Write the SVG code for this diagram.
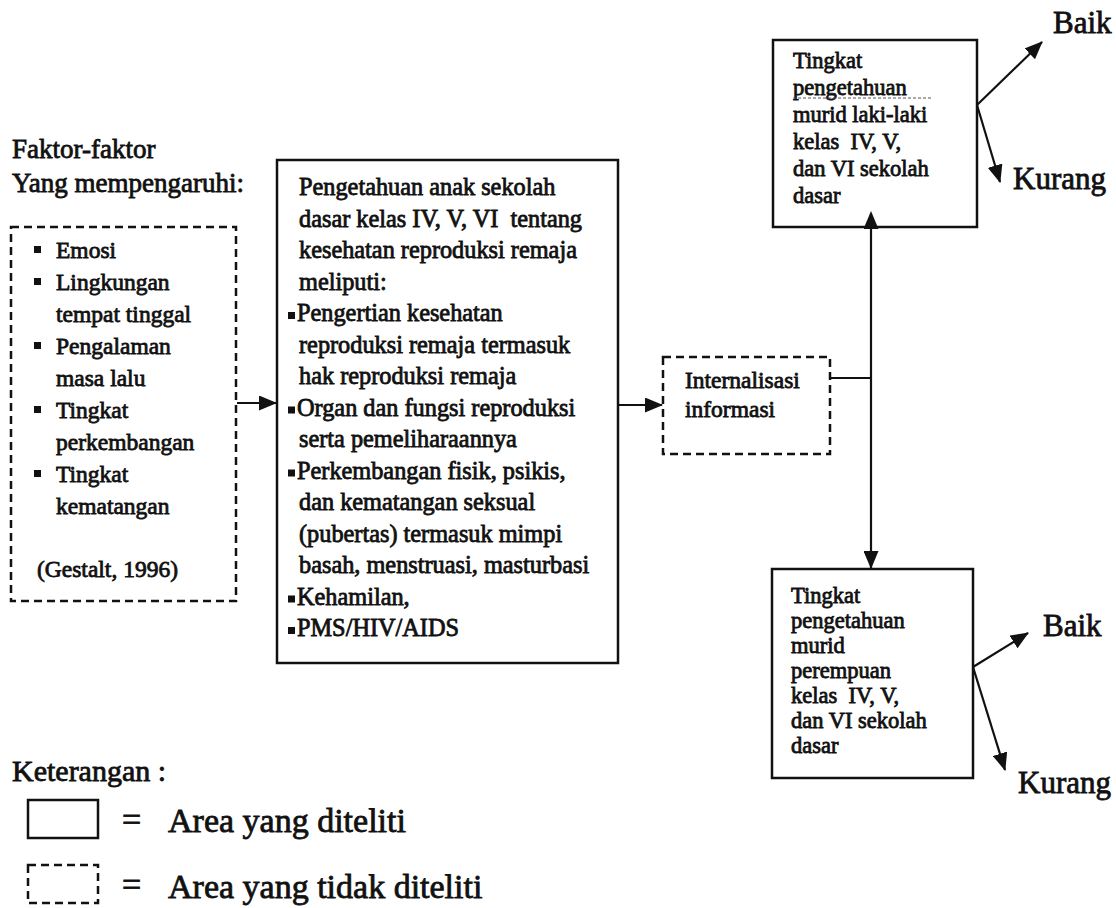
<svg xmlns="http://www.w3.org/2000/svg" width="1116" height="908" viewBox="0 0 1116 908">
<style>
text{font-family:"Liberation Serif","Times New Roman",serif;fill:#111;stroke:#111;stroke-width:0.8}
.h{font-size:27px}
.k{font-size:30px}
.o{font-size:31px}
.b{font-size:23.5px}
.m{font-size:24.3px}
.r{font-size:22.5px}
.lg{font-size:34px}
.solid{fill:#fff;stroke:#111;stroke-width:2.5}
.dash{fill:#fff;stroke:#111;stroke-width:2.5;stroke-dasharray:8 5}
.ln{fill:none;stroke:#111;stroke-width:2.2}
.bul{fill:#111}
</style>
<defs>
<marker id="ah" viewBox="0 0 18 15" refX="17" refY="7.5" markerWidth="18" markerHeight="15" markerUnits="userSpaceOnUse" orient="auto">
<path d="M0,0 L18,7.5 L0,15 Z" fill="#111"/>
</marker>
<marker id="ahs" viewBox="0 0 18 15" refX="1" refY="7.5" markerWidth="18" markerHeight="15" markerUnits="userSpaceOnUse" orient="auto-start-reverse">
<path d="M0,0 L18,7.5 L0,15 Z" fill="#111"/>
</marker>
</defs>
<rect width="1116" height="908" fill="#fff"/>

<g id="heading">
<text class="h" x="12" y="158">Faktor-faktor</text>
<text class="h" x="12" y="192">Yang mempengaruhi:</text>
</g>

<g id="faktor">
<rect class="dash" x="11" y="227" width="225" height="374"/>
<rect class="bul" x="34" y="246" width="7" height="7"/>
<text class="b" x="56" y="258">Emosi</text>
<rect class="bul" x="34" y="278" width="7" height="7"/>
<text class="b" x="56" y="290">Lingkungan</text>
<text class="b" x="56" y="322">tempat tinggal</text>
<rect class="bul" x="34" y="342" width="7" height="7"/>
<text class="b" x="56" y="354">Pengalaman</text>
<text class="b" x="56" y="386">masa lalu</text>
<rect class="bul" x="34" y="406" width="7" height="7"/>
<text class="b" x="56" y="418">Tingkat</text>
<text class="b" x="56" y="450">perkembangan</text>
<rect class="bul" x="34" y="470" width="7" height="7"/>
<text class="b" x="56" y="482">Tingkat</text>
<text class="b" x="56" y="514">kematangan</text>
<text class="b" x="37" y="577">(Gestalt, 1996)</text>
</g>

<g id="pengetahuan">
<rect class="solid" x="277" y="160" width="341" height="503"/>
<text class="m" x="299" y="195">Pengetahuan anak sekolah</text>
<text class="m" x="299" y="226.5" xml:space="preserve">dasar kelas IV, V, VI  tentang</text>
<text class="m" x="299" y="258">kesehatan reproduksi remaja</text>
<text class="m" x="299" y="289.5">meliputi:</text>
<rect class="bul" x="288" y="312" width="7" height="7"/>
<text class="m" x="297" y="321">Pengertian kesehatan</text>
<text class="m" x="299" y="352.5">reproduksi remaja termasuk</text>
<text class="m" x="299" y="384">hak reproduksi remaja</text>
<rect class="bul" x="288" y="406.5" width="7" height="7"/>
<text class="m" x="297" y="415.5">Organ dan fungsi reproduksi</text>
<text class="m" x="299" y="447">serta pemeliharaannya</text>
<rect class="bul" x="288" y="469.5" width="7" height="7"/>
<text class="m" x="297" y="478.5">Perkembangan fisik, psikis,</text>
<text class="m" x="299" y="510">dan kematangan seksual</text>
<text class="m" x="299" y="541.5">(pubertas) termasuk mimpi</text>
<text class="m" x="299" y="573">basah, menstruasi, masturbasi</text>
<rect class="bul" x="288" y="595.5" width="7" height="7"/>
<text class="m" x="297" y="604.5">Kehamilan,</text>
<rect class="bul" x="288" y="627" width="7" height="7"/>
<text class="m" x="297" y="636">PMS/HIV/AIDS</text>
</g>

<g id="internalisasi">
<rect class="dash" x="663" y="357" width="167" height="97"/>
<text class="b" x="685" y="388">Internalisasi</text>
<text class="b" x="685" y="417">informasi</text>
</g>

<g id="laki">
<rect class="solid" x="773" y="40" width="204" height="187"/>
<text class="r" x="793" y="68">Tingkat</text>
<text class="r" x="793" y="95">pengetahuan</text>
<line x1="793" y1="98" x2="933" y2="98" stroke="#555" stroke-width="1" stroke-dasharray="3 2"/>
<text class="r" x="793" y="122">murid laki-laki</text>
<text class="r" x="793" y="149" xml:space="preserve">kelas  IV, V,</text>
<text class="r" x="793" y="176">dan VI sekolah</text>
<text class="r" x="793" y="203">dasar</text>
</g>

<g id="perempuan">
<rect class="solid" x="772" y="569" width="201" height="209"/>
<text class="r" x="791" y="603">Tingkat</text>
<text class="r" x="791" y="628">pengetahuan</text>
<text class="r" x="791" y="653">murid</text>
<text class="r" x="791" y="678">perempuan</text>
<text class="r" x="791" y="703" xml:space="preserve">kelas  IV, V,</text>
<text class="r" x="791" y="728">dan VI sekolah</text>
<text class="r" x="791" y="753">dasar</text>
</g>

<g id="hasil">
<text class="o" x="1053" y="33">Baik</text>
<text class="o" x="1013" y="189">Kurang</text>
<text class="o" x="1043" y="636">Baik</text>
<text class="o" x="1018" y="793">Kurang</text>
</g>

<g id="connectors">
<line class="ln" x1="237" y1="403" x2="276" y2="403" marker-end="url(#ah)"/>
<line class="ln" x1="618" y1="405" x2="662" y2="405" marker-end="url(#ah)"/>
<line class="ln" x1="830" y1="378" x2="871" y2="378"/>
<line class="ln" x1="871" y1="228" x2="871" y2="568" marker-start="url(#ahs)" marker-end="url(#ah)"/>
<line class="ln" x1="977" y1="105" x2="1042" y2="42" marker-end="url(#ah)"/>
<line class="ln" x1="977" y1="105" x2="1000" y2="182" marker-end="url(#ah)"/>
<line class="ln" x1="973" y1="667" x2="1028" y2="633" marker-end="url(#ah)"/>
<line class="ln" x1="973" y1="667" x2="1005" y2="770" marker-end="url(#ah)"/>
</g>

<g id="legend">
<text class="k" x="12" y="781">Keterangan :</text>
<rect class="solid" x="28" y="800" width="70" height="38"/>
<text class="lg" x="122" y="831">=</text>
<text class="lg" x="168" y="832">Area yang diteliti</text>
<rect class="dash" x="28" y="865" width="70" height="38"/>
<text class="lg" x="122" y="896">=</text>
<text class="lg" x="168" y="898">Area yang tidak diteliti</text>
</g>
</svg>
